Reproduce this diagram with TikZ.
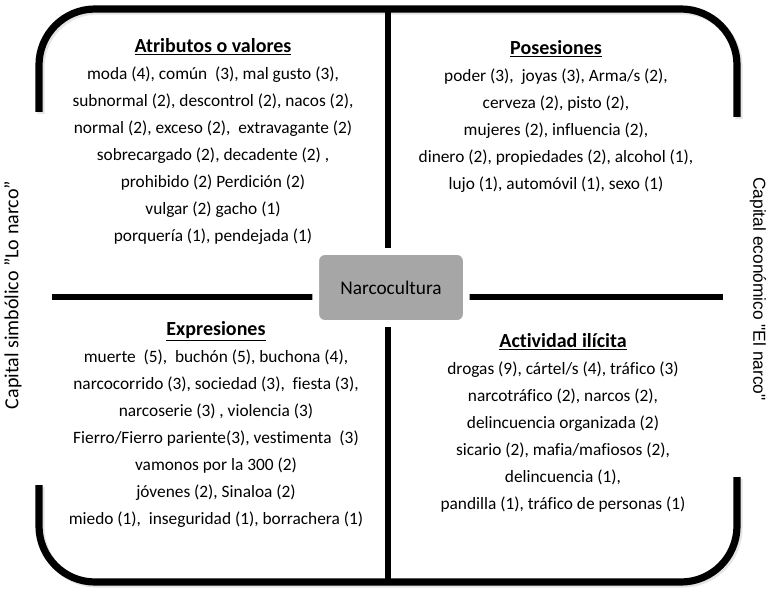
\documentclass[tikz,border=0pt]{standalone}
\usepackage{fontspec}
\setmainfont{Carlito}[Ligatures=NoCommon]
\newfontfamily\arialfont{Liberation Sans}
\usepackage{xcolor}
\usetikzlibrary{shadows}

\newcommand{\qtitle}[1]{{\fontsize{15}{20.25}\selectfont\textbf{\underline{#1}}}}

\begin{document}
\begin{tikzpicture}[x=0.75pt,y=-0.75pt,
    frame/.style={line width=5.4pt, rounded corners=42pt},
    cross/.style={line width=4.8pt},
    quad/.style={align=center, inner sep=0pt, font=\fontsize{13}{20.25}\selectfont},
    hub/.style={fill=black!35, draw=white, line width=5pt, rounded corners=7pt,
        minimum width=113pt, minimum height=54pt, font=\fontsize{14.5}{17}\selectfont,
        drop shadow={opacity=0.3, shadow xshift=1pt, shadow yshift=-1pt}}]
    \def\xl{39};
    \def\xr{737};
    \def\yt{9};
    \def\yb{582};
    \useasboundingbox (0,0) rectangle (766,588);
    \coordinate (N) at (388,\yt);
    \coordinate (S) at (388,\yb);
    \coordinate (W) at (52,297);
    \coordinate (E) at (723,297);
    % frame with shadow %
    \draw[frame, draw=black!20, opacity=0.5, shift={(2,2)}] (\xl,112) -- (\xl,\yt) -- (\xr,\yt) -- (\xr,117);
    \draw[frame, draw=black!20, opacity=0.5, shift={(2,2)}] (\xl,485) -- (\xl,\yb) -- (\xr,\yb) -- (\xr,477);
    \draw[frame] (\xl,112) -- (\xl,\yt) -- (\xr,\yt) -- (\xr,117);
    \draw[frame] (\xl,485) -- (\xl,\yb) -- (\xr,\yb) -- (\xr,477);
    % cross %
    \draw[cross] (N) -- (S);
    \draw[cross] (W) -- (E);

    \node[hub] (hub) at (391,287.5) {Narcocultura};

    \node[quad] (attr) at (213,141) {\qtitle{Atributos o valores}\\
        moda (4), común~ (3), mal gusto (3),\\
        subnormal (2), descontrol (2), nacos (2),\\
        normal (2), exceso (2),~ extravagante (2)\\
        sobrecargado (2), decadente (2) ,\\
        prohibido (2) Perdición (2)\\
        vulgar (2) gacho (1)\\
        porquería (1), pendejada (1)};
    \node[quad] (poses) at (556,116) {\qtitle{Posesiones}\\
        poder (3),~ joyas (3), Arma/s (2),\\
        cerveza (2), pisto (2),\\
        mujeres (2), influencia (2),\\
        dinero (2), propiedades (2), alcohol (1),\\
        lujo (1), automóvil (1), sexo (1)};
    \node[quad] (expr) at (216,424) {\qtitle{Expresiones}\\
        muerte~ (5),~ buchón (5), buchona (4),\\
        narcocorrido (3), sociedad (3),~ fiesta (3),\\
        narcoserie (3) , violencia (3)\\
        Fierro/Fierro pariente(3), vestimenta~ (3)\\
        vamonos por la 300 (2)\\
        jóvenes (2), Sinaloa (2)\\
        miedo (1),~ inseguridad (1), borrachera (1)};
    \node[quad] (activ) at (563,423) {\qtitle{Actividad ilícita}\\
        drogas (9), cártel/s (4), tráfico (3)\\
        narcotráfico (2), narcos (2),\\
        delincuencia organizada (2)\\
        sicario (2), mafia/mafiosos (2),\\
        delincuencia (1),\\
        pandilla (1), tráfico de personas (1)};

    % side labels %
    \node[rotate=90, inner sep=0pt, font=\fontsize{15}{18}\selectfont] (simb) at (13,295) {Capital simbólico "Lo narco"};
    \node[rotate=-90, inner sep=0pt, font=\arialfont\fontsize{13}{16}\selectfont] (econ) at (758,289) {Capital económico "El narco"};
\end{tikzpicture}
\end{document}
